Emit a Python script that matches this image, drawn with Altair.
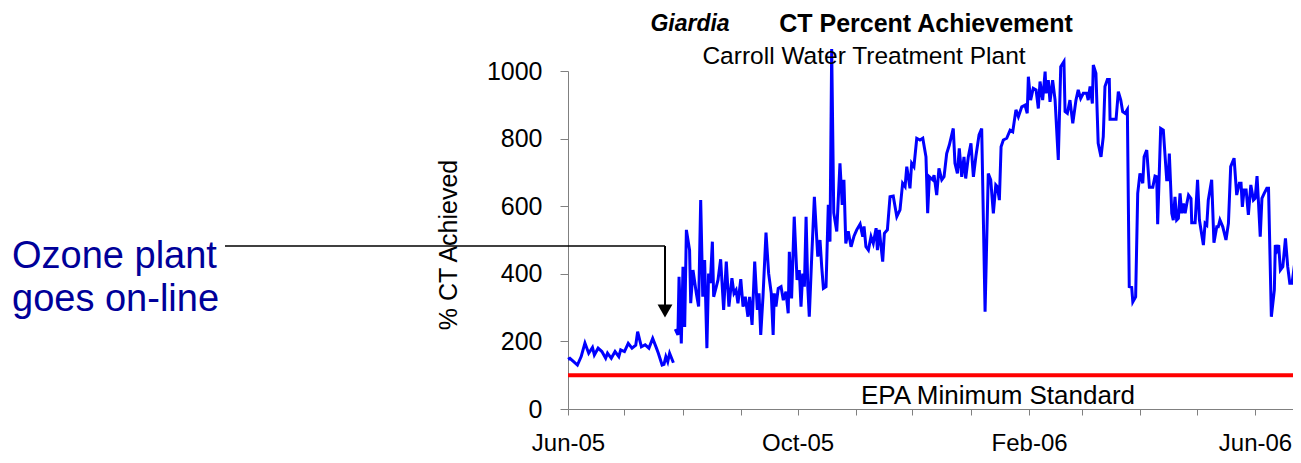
import altair as alt
import pandas as pd

# ---- data (day offset from 2005-06-01, % CT achieved)
seg1_days = [0, 1, 3, 5, 7, 9, 11, 13, 14, 16, 18, 20, 21, 23, 25, 27, 28, 30, 32, 34,
             36, 37, 39, 41, 43, 45, 47, 48, 50, 51, 52, 53, 54, 56]
seg1_vals = [147, 150, 140, 130, 155, 195, 165, 182, 160, 180, 170, 150, 165, 150, 170, 155,
             175, 170, 194, 180, 189, 229, 184, 190, 180, 209, 180, 165, 130, 132, 155, 140,
             165, 137]

seg2_days = [57.0, 58.4, 59.0, 60.2, 61.1, 62.0, 62.9, 64.6, 65.2, 66.4, 68.2, 69.4, 70.5, 71.6,
             72.6, 73.8, 74.7, 75.6, 76.7, 77.4, 78.8, 79.7, 81.1, 82.7, 84.1, 85.5, 87.1, 88.2,
             89.3, 90.3, 91.8, 93.0, 94.2, 95.6, 96.5, 97.8, 99.2, 100.6, 101.5, 102.4, 103.6,
             105.2, 106.6, 108.0, 109.0, 109.6, 110.5, 111.7, 113.2, 114.4, 115.8, 117.0, 117.6,
             118.8, 120.2, 121.7, 122.9, 123.8, 124.7, 125.6, 126.5, 127.4, 128.2, 129.5, 130.9,
             132.7, 133.9, 134.8, 135.7, 137.1, 138.3, 139.2, 140.1, 141.2, 142.8, 144.5, 145.7,
             146.6, 147.6, 148.9, 150.4, 152.0, 153.4, 155.2, 156.6, 157.3, 158.3, 159.6, 161.0,
             162.2, 163.7, 164.4, 165.4, 167.2, 168.1, 169.7, 171.1, 172.8, 174.7, 176.4, 177.8,
             179.1, 180.0, 181.7, 182.6, 183.8, 185.3, 187.0, 188.5, 190.2, 191.1, 192.0, 193.8,
             194.5, 195.9, 197.1, 198.6, 199.8, 201.2, 202.6, 204.7, 205.6, 206.9, 207.9, 209.2,
             210.4, 211.3, 212.7, 214.1, 215.4, 216.8, 218.4, 219.8, 221.6, 223.3, 224.6, 226.0,
             227.3, 228.1, 229.2, 230.1, 231.3, 233.1, 234.9, 236.3, 238.0, 239.3, 241.1, 242.8,
             244.0, 244.6, 245.8, 247.2, 248.7, 249.9, 250.8, 252.2, 253.5, 254.0, 255.2, 256.1,
             257.5, 258.8, 260.5, 261.8, 263.5, 264.1, 265.3, 266.7, 268.2, 269.9, 271.1, 272.4,
             273.8, 275.6, 276.4, 277.4, 278.6, 279.1, 280.5, 281.7, 283.2, 284.4, 285.3, 286.6,
             287.6, 288.0, 289.8, 291.2, 292.4, 293.7, 294.7, 296.0, 297.2, 298.2, 299.5, 300.1,
             301.6, 302.7, 303.9, 305.4, 306.1, 307.5, 308.9, 310.7, 311.9, 312.8, 313.3, 314.9,
             316.3, 318.1, 318.9, 319.5, 320.8, 321.6, 322.5, 323.4, 324.3, 325.2, 326.1, 327.0,
             327.9, 328.8, 329.7, 331.0, 331.4, 333.2, 334.5, 335.5, 337.6, 338.5, 339.4, 340.2,
             342.0, 343.2, 344.7, 345.5, 346.4, 347.9, 349.6, 350.9, 352.1, 353.9, 355.3, 356.7,
             357.6, 358.3, 359.2, 360.3, 361.5, 362.8, 364.2, 365.1, 366.1, 366.9, 367.8, 368.7,
             369.9, 371.3, 372.2, 373.7, 375.3, 375.8, 376.7, 377.6, 378.5, 379.8, 381.2, 382.4,
             383.5, 384.7, 386.1, 387.1, 388.9, 389.6]
seg2_vals = [236, 219, 391, 194, 421, 243, 530, 470, 313, 411, 342, 303, 618, 332,
             441, 180, 401, 372, 495, 332, 362, 382, 443, 293, 436, 303, 387, 342,
             352, 313, 384, 303, 332, 273, 332, 249, 436, 293, 342, 219, 332,
             522, 401, 342, 219, 342, 303, 357, 362, 322, 347, 283, 465,
             327, 569, 382, 411, 303, 401, 362, 569, 362, 273, 451, 628,
             451, 500, 421, 357, 362, 604, 495, 1065, 580, 525, 727, 604,
             678, 490, 526, 480, 512, 530, 547, 510, 540, 480, 470, 510,
             490, 535, 470, 530, 436, 520, 530, 628, 630, 569, 589, 668,
             658, 717, 653, 727, 717, 801, 796, 801, 746, 579, 687, 678,
             692, 633, 712, 678, 687, 756, 781, 830, 727, 697, 771, 687,
             746, 682, 746, 786, 687, 751, 811, 830, 288, 697, 678, 579,
             663, 658, 618, 776, 796, 801, 825, 820, 885, 865, 894, 899,
             875, 983, 914, 949, 944, 889, 969, 914, 998, 934, 973, 909,
             973, 914, 737, 1013, 1028, 880, 875, 914, 845, 914, 944, 919,
             934, 934, 914, 954, 904, 1018, 993, 786, 746, 806, 954, 975,
             975, 857, 857, 857, 939, 914, 880, 875, 886, 362, 360, 317,
             332, 638, 697, 668, 746, 766, 656, 656, 689, 687, 547, 830,
             825, 678, 678, 756, 579, 559, 628, 559, 564, 638, 579, 608,
             579, 608, 633, 623, 551, 551, 678, 559, 485, 549, 544, 618,
             678, 492, 539, 539, 559, 539, 500, 549, 717, 742, 633, 668,
             668, 598, 648, 648, 574, 663, 618, 623, 689, 608, 510, 623,
             638, 653, 653, 273, 352, 485, 470, 485, 411, 421, 505, 421,
             372, 372, 431, 303, 278, 270]

epa_standard = [100]
y_ticks = [0, 200, 400, 600, 800, 1000]
month_starts = ["2005-06-01", "2005-07-01", "2005-08-01", "2005-09-01", "2005-10-01",
                "2005-11-01", "2005-12-01", "2006-01-01", "2006-02-01", "2006-03-01",
                "2006-04-01", "2006-05-01", "2006-06-01"]
x_domain = ["2005-06-01T00:00:00", "2006-06-21T05:00:00"]

start = pd.Timestamp("2005-06-01", tz="UTC")


def to_iso(days):
    ts = start + pd.to_timedelta(days, unit="D")
    return [t.strftime("%Y-%m-%dT%H:%M:%SZ") for t in ts]


df = pd.concat([
    pd.DataFrame({"date": to_iso(seg1_days), "pct": seg1_vals, "seg": "a"}),
    pd.DataFrame({"date": to_iso(seg2_days), "pct": seg2_vals, "seg": "b"}),
])


def ms(s):
    return int(pd.Timestamp(s, tz="UTC").value // 10**6)


tick_ms = [ms(s) for s in month_starts]
dom_ms = [ms(s) for s in x_domain]

FONT = "Liberation Sans"
W, H = 725, 338
FS = 25

x_enc = alt.X(
    "date:T",
    scale=alt.Scale(type="utc", domain=dom_ms),
    axis=alt.Axis(
        values=tick_ms,
        labelExpr="(utcmonth(datum.value) == 5 || utcmonth(datum.value) == 9 || utcmonth(datum.value) == 1) ? utcFormat(datum.value, '%b-%y') : ''",
        labelFlush=False, labelOverlap=False, grid=False, title=None,
        tickSize=6, labelPadding=16, labelFontSize=24, labelFont=FONT, labelColor="black",
        domainColor="#808080", tickColor="#808080",
    ),
)
y_enc = alt.Y(
    "pct:Q",
    scale=alt.Scale(domain=[0, 1000], nice=False, zero=True),
    axis=alt.Axis(
        values=y_ticks, format="d", grid=False, title=None, tickSize=8, labelPadding=18,
        labelFontSize=FS, labelFont=FONT, labelColor="black",
        domainColor="#808080", tickColor="#808080",
    ),
)

line = alt.Chart(df).mark_line(color="#0000FF", strokeWidth=3, clip=False).encode(
    x=x_enc, y=y_enc, detail="seg:N"
)

epa = alt.Chart(pd.DataFrame({"pct": epa_standard})).mark_rule(
    color="#FF0000", strokeWidth=4
).encode(y="pct:Q")

one = pd.DataFrame({"k": [0]})


def txt(text, x, y, size, **kw):
    return alt.Chart(one).mark_text(text=text, fontSize=size, font=FONT, **kw).encode(
        x=alt.value(x), y=alt.value(y)
    )


epa_label = txt("EPA Minimum Standard", 430, 325, 26, color="black")
title1 = txt("Giardia", 122, -47, 23, fontWeight="bold", fontStyle="italic", color="black")
title2 = txt("CT Percent Achievement", 358, -47, 25, fontWeight="bold", color="black")
subtitle = txt("Carroll Water Treatment Plant", 296, -14, 24.5, color="black")
ytitle = txt("% CT Achieved", -119, 174, FS, angle=270, color="black")
ozone1 = txt("Ozone plant", -556, 186, 38, color="#000099", align="left")
ozone2 = txt("goes on-line", -556, 229, 38, color="#000099", align="left")

hline = alt.Chart(one).mark_rule(color="black", strokeWidth=1.5).encode(
    x=alt.value(-343), x2=alt.value(97), y=alt.value(175)
)
vline = alt.Chart(one).mark_rule(color="black", strokeWidth=2).encode(
    x=alt.value(97), y=alt.value(175), y2=alt.value(234)
)
head = alt.Chart(one).mark_point(
    shape="triangle-down", filled=True, color="black", opacity=1, size=220
).encode(x=alt.value(97), y=alt.value(240))

chart = alt.layer(
    epa, line, epa_label, title1, title2, subtitle, ytitle, ozone1, ozone2, hline, vline, head
).properties(
    width=W, height=H,
    autosize=alt.AutoSizeParams(type="none"),
    padding={"left": 560, "top": 63, "right": 0, "bottom": 46},
).configure_view(stroke=None)

chart.save("out.html", embed_options={"renderer": "svg", "actions": False})
